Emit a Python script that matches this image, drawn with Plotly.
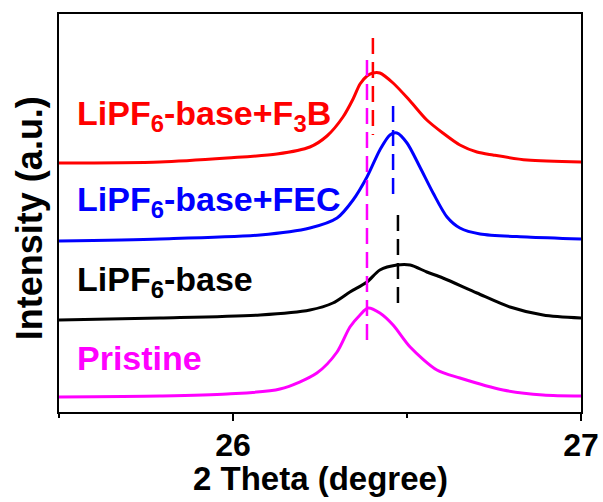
import plotly.graph_objects as go

# XRD (002) region, stacked patterns (intensity in arbitrary units incl. offsets)
pristine_x = [25.5, 25.79, 25.983, 26.135, 26.241, 26.299, 26.336, 26.365, 26.388,
              26.422, 26.46, 26.509, 26.586, 26.652, 26.776, 26.891, 27.0]
pristine_y = [15, 16, 18, 23, 39, 60, 85, 97, 104, 99, 87, 65, 42, 34, 22, 17, 16]

base_x = [25.5, 25.79, 26.078, 26.221, 26.287, 26.336, 26.385, 26.422, 26.471,
          26.509, 26.557, 26.603, 26.701, 26.796, 26.891, 27.0]
base_y = [92, 94, 97, 102, 109, 120, 130, 142, 147, 147, 140, 134, 119, 105, 97, 94]

fec_x = [25.5, 25.79, 26.078, 26.221, 26.299, 26.345, 26.385, 26.422, 26.451,
         26.471, 26.5, 26.537, 26.575, 26.615, 26.652, 26.71, 26.845, 27.0]
fec_y = [171, 173, 177, 184, 194, 212, 235, 262, 277, 279, 269, 245, 219, 195,
         184, 178, 175, 173]

f3b_x = [25.5, 25.79, 25.983, 26.126, 26.221, 26.27, 26.316, 26.345, 26.365, 26.385,
         26.402, 26.422, 26.46, 26.509, 26.557, 26.603, 26.652, 26.701, 26.747,
         26.845, 27.0]
f3b_y = [249, 250, 254, 258, 265, 276, 295, 313, 328, 336, 339, 339, 329, 311, 292,
         279, 267, 260, 257, 252, 250]

# Peak-position markers: 2theta, upper and lower ends of each dashed guide
peak_pos = {"Pristine": 26.385, "LiPF6-base": 26.474,
            "LiPF6-base+FEC": 26.46, "LiPF6-base+F3B": 26.402}
peak_top = {"Pristine": 352, "LiPF6-base": 197,
            "LiPF6-base+FEC": 306, "LiPF6-base+F3B": 374}
peak_bottom = {"Pristine": 64, "LiPF6-base": 102,
               "LiPF6-base+FEC": 210, "LiPF6-base+F3B": 277}

series = [
    ("Pristine", pristine_x, pristine_y, "#FF00FF", "Pristine"),
    ("LiPF6-base", base_x, base_y, "#000000", "LiPF<sub>6</sub>-base"),
    ("LiPF6-base+FEC", fec_x, fec_y, "#0000FF", "LiPF<sub>6</sub>-base+FEC"),
    ("LiPF6-base+F3B", f3b_x, f3b_y, "#FF0000", "LiPF<sub>6</sub>-base+F<sub>3</sub>B"),
]

# label anchor (y, in plot units) for each pattern's name
label_y = {"Pristine": 54, "LiPF6-base": 131, "LiPF6-base+FEC": 211, "LiPF6-base+F3B": 297}

FONT = "Liberation Sans, Arial, sans-serif"

fig = go.Figure()
for name, xs, ys, color, _ in series:
    fig.add_trace(go.Scatter(x=xs, y=ys, mode="lines", name=name,
                             line=dict(color=color, width=3, shape="spline", smoothing=0.8)))

for name, _, _, color, _ in series:
    fig.add_trace(go.Scatter(x=[peak_pos[name], peak_pos[name]],
                             y=[peak_top[name], peak_bottom[name]],
                             mode="lines", showlegend=False,
                             line=dict(color=color, width=2.5, dash="16px,8px")))

for name, _, _, color, label in series:
    fig.add_annotation(x=25.545, y=label_y[name], xref="x", yref="y",
                       text=f"<b>{label}</b>", showarrow=False,
                       xanchor="left", yanchor="middle",
                       font=dict(family=FONT, size=34, color=color))

# axis titles
fig.add_annotation(x=0.5, y=-0.168, xref="paper", yref="paper",
                   text="<b>2 Theta (degree)</b>", showarrow=False,
                   xanchor="center", yanchor="middle",
                   font=dict(family=FONT, size=33, color="black"))
fig.add_annotation(x=-0.0575, y=0.487, xref="paper", yref="paper",
                   text="<b>Intensity (a.u.)</b>", showarrow=False, textangle=-90,
                   xanchor="center", yanchor="middle",
                   font=dict(family=FONT, size=36, color="black"))

fig.update_layout(
    width=603, height=502,
    margin=dict(l=59, r=22, t=14, b=90),
    plot_bgcolor="white", paper_bgcolor="white",
    showlegend=False,
    font=dict(family=FONT, color="black"),
)
fig.update_xaxes(
    range=[25.5, 27], dtick=1, tick0=0, automargin=False,
    ticks="outside", ticklen=7, tickwidth=2, tickcolor="black",
    minor=dict(dtick=0.5, tick0=0, ticks="outside", ticklen=4, tickwidth=2, tickcolor="black"),
    showline=True, linewidth=2, linecolor="black", mirror=True,
    showgrid=False, zeroline=False, ticklabelstandoff=-3,
    tickfont=dict(family=FONT, size=32, color="black", weight="bold"),
)
fig.update_yaxes(
    range=[0, 398], showticklabels=False, ticks="", automargin=False,
    showline=True, linewidth=2, linecolor="black", mirror=True,
    showgrid=False, zeroline=False,
)

fig.write_html("out.html")
